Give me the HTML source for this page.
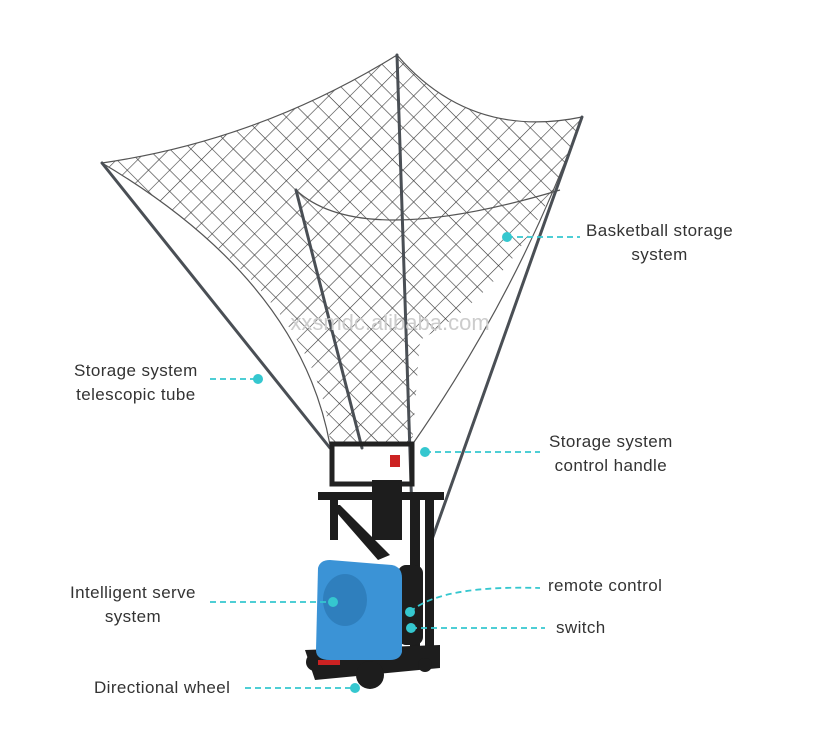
<!DOCTYPE html>
<html><head><style>
body{margin:0;background:#fff;width:828px;height:739px;overflow:hidden;position:relative;font-family:"Liberation Sans",sans-serif}
.t{position:absolute;color:#333;font-size:17px;line-height:23.5px;letter-spacing:0.4px}
</style></head><body>
<svg width="828" height="739" style="position:absolute;left:0;top:0">
<defs>
<pattern id="mesh" width="15" height="15" patternUnits="userSpaceOnUse" patternTransform="rotate(45)">
<path d="M0 0H15M0 0V15" stroke="#3a3a3a" stroke-width="1.2" fill="none"/>
</pattern>
<clipPath id="nc"><path d="M102,163 Q260,140 397,55 Q470,140 582,117 Q530,280 420,340 L412,445 L330,445 Q325,300 102,163Z"/></clipPath>
</defs>
<rect x="0" y="0" width="828" height="739" fill="url(#mesh)" clip-path="url(#nc)"/>
<path d="M102,163 Q260,140 397,55 Q470,140 582,117 M102,163 Q300,280 330,445 M582,117 Q520,290 412,445 M296,190 Q360,250 560,190" stroke="#555" stroke-width="1.2" fill="none"/>
<g stroke="#4a4f55" stroke-width="3" stroke-linecap="round">
<line x1="102" y1="163" x2="330" y2="448"/>
<line x1="397" y1="55" x2="413" y2="545"/>
<line x1="582" y1="117" x2="430" y2="545"/>
<line x1="296" y1="190" x2="362" y2="448"/>
</g>
<text x="390" y="330" font-size="22" fill="#ccc" text-anchor="middle" font-family="Liberation Sans">xxsmdc.alibaba.com</text>
<g fill="#1d1d1d">
<rect x="332" y="444" width="80" height="40" fill="none" stroke="#222" stroke-width="5"/>
<rect x="318" y="492" width="126" height="8"/>
<rect x="330" y="500" width="8" height="40"/>
<polygon points="330,505 340,505 390,555 378,560"/>
<rect x="372" y="480" width="30" height="60"/>
<rect x="410" y="495" width="10" height="170"/>
<rect x="425" y="495" width="9" height="170"/>
<rect x="398" y="565" width="25" height="80" rx="8"/>
<path d="M305,650 L440,645 L440,668 L315,680Z"/>
<circle cx="370" cy="675" r="14"/>
<circle cx="315" cy="662" r="9"/>
<circle cx="425" cy="665" r="7"/>
</g>
<rect x="390" y="455" width="10" height="12" fill="#c22"/>
<path d="M318,568 Q320,560 330,560 L392,565 Q402,567 402,578 L402,652 Q400,660 390,660 L330,660 Q316,660 316,650Z" fill="#3b93d6"/>
<ellipse cx="345" cy="600" rx="22" ry="26" fill="#2f7fbd"/>
<rect x="318" y="660" width="22" height="5" fill="#c22"/>
<g stroke="#35c7cf" stroke-width="1.8" stroke-dasharray="6,4" fill="none">
<line x1="507" y1="237" x2="580" y2="237"/>
<line x1="210" y1="379" x2="258" y2="379"/>
<line x1="425" y1="452" x2="540" y2="452"/>
<line x1="210" y1="602" x2="333" y2="602"/>
<path d="M410,612 Q440,585 540,588"/>
<line x1="411" y1="628" x2="545" y2="628"/>
<line x1="245" y1="688" x2="355" y2="688"/>
</g>
<g fill="#35c7cf">
<circle cx="507" cy="237" r="5"/><circle cx="258" cy="379" r="5"/><circle cx="425" cy="452" r="5"/>
<circle cx="333" cy="602" r="5"/><circle cx="410" cy="612" r="5"/><circle cx="411" cy="628" r="5"/><circle cx="355" cy="688" r="5"/>
</g>
</svg>
<div class="t" style="left:586px;top:219px;text-align:center">Basketball storage<br>system</div>
<div class="t" style="left:74px;top:359px;text-align:center">Storage system<br>telescopic tube</div>
<div class="t" style="left:549px;top:430px;text-align:center">Storage system<br>control handle</div>
<div class="t" style="left:70px;top:581px;text-align:center">Intelligent serve<br>system</div>
<div class="t" style="left:548px;top:574px">remote control</div>
<div class="t" style="left:556px;top:616px">switch</div>
<div class="t" style="left:94px;top:676px">Directional wheel</div>
</body></html>
